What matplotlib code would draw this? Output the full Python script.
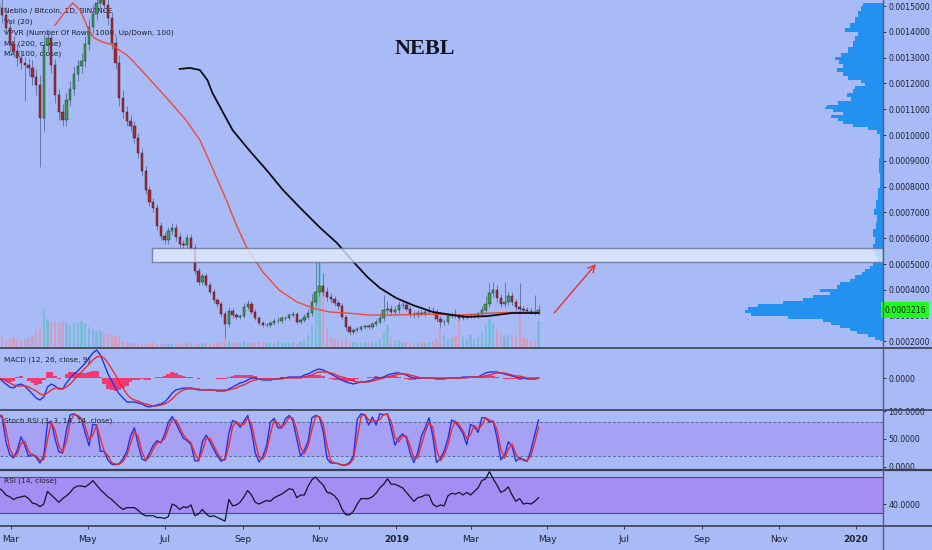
import numpy as np
import matplotlib
matplotlib.use('Agg')
import matplotlib.pyplot as plt
import matplotlib.dates as mdates
from matplotlib.lines import Line2D
from matplotlib.patches import Rectangle

# ---------------- data ----------------
dates = np.arange(np.datetime64('2018-02-19'), np.datetime64('2019-04-25'), 3)  # 3-day candles

first_open_sats = 151000
close_sats = [149200,146500,141500,135300,132600,129800,127900,127100,126000,122500,
              119400,106600,134900,137600,127100,115500,108900,105800,113600,117800,
              123600,126700,128700,135300,141900,146900,151200,152300,150400,145300,
              135700,127900,114300,108900,105400,103500,98800,93000,86000,78700,
              74000,71700,64700,60900,59300,62800,64000,60500,57800,57400,
              60100,56200,47300,43000,45300,41900,39200,36000,34500,30600,
              26700,31800,30200,29500,29800,33300,34500,31400,29100,27100,
              26400,26400,27100,27900,27900,29100,29100,30200,30600,27500,
              28300,29500,31000,35300,39200,41500,39200,37200,36400,34900,
              33700,29500,25600,23600,24400,24800,25600,26000,25600,26700,
              27500,29100,32200,32600,31400,32200,34100,34100,32600,30600,
              30200,31000,30600,31400,31800,31400,28700,27500,27500,29800,
              30200,29800,29100,29500,29800,29800,29800,30600,32200,34500,
              38800,40000,36800,34500,35300,37600,35300,33300,32600,32200,
              31800,31400,31000,32160]
wick_up_sats = [3000,3500,3000,2500,3000,2500,3000,2500,2500,3000,
                3000,4000,4000,3000,3000,2500,2500,3000,2500,3000,
                3000,2500,3000,3000,3000,3500,3000,3000,3000,3000,
                2500,2500,3000,3000,2500,2500,2000,2000,2000,1800,
                1500,1500,1500,1500,1500,1500,1800,1500,1500,1500,
                1500,1500,1500,1200,1200,1200,1200,1000,1000,1000,
                1000,1500,1200,1000,1000,1500,1500,1000,1000,800,
                800,800,800,1000,1500,800,800,1000,1000,800,
                800,1000,1500,3000,12000,10000,5000,2000,1500,1200,
                1000,1000,800,800,800,800,800,800,800,1000,
                1200,2000,5800,3000,1500,1500,1500,1500,1200,1000,
                1000,1000,1000,1000,2000,1500,1000,1000,1000,1200,
                1200,2500,1200,1000,1000,1000,1000,1000,1500,3000,
                4200,3000,2000,1500,7700,1500,1500,1200,9500,1000,
                1000,1000,6600,2000]
wick_dn_sats = [2500,3000,2500,3000,2500,3000,2500,14000,3000,3000,
                4000,19000,5000,3000,3000,3000,3000,2500,2500,2500,
                2500,2500,2500,2500,2500,2500,2500,2500,2500,2500,
                2500,2500,3000,2500,2000,2000,2000,2000,1800,1500,
                1500,1500,1500,1500,1500,1500,1500,1500,1500,1200,
                1200,1200,1200,1200,1000,1000,1000,1000,1000,1000,
                5400,1000,1000,1000,800,800,800,800,800,800,
                800,800,800,800,800,800,800,800,800,800,
                800,800,800,1000,1500,1500,1500,1500,1200,1000,
                1000,1000,1500,1200,800,800,800,800,800,800,
                800,800,1000,1000,1000,1000,1000,1000,1000,1000,
                1000,1000,800,800,800,800,1000,2000,1000,800,
                800,800,800,800,800,800,800,800,800,1000,
                1000,1500,1500,1000,1000,1000,1000,1000,800,800,
                800,800,800,800]
volume = [55,12,6,8,10,8,6,8,10,12,
          18,22,38,28,25,26,24,26,24,22,
          25,24,26,24,20,18,16,16,14,13,
          12,11,10,6,5,4,4,3,3,4,
          3,5,3,3,4,3,3,3,4,3,
          4,5,4,3,4,3,3,4,4,5,
          9,6,4,5,4,6,5,4,4,6,
          5,4,5,4,6,4,5,4,5,4,
          6,8,12,22,56,84,60,18,10,8,
          6,8,10,6,5,5,4,5,4,5,
          6,8,14,22,10,7,6,5,5,4,
          4,5,5,4,5,6,8,20,12,8,
          10,12,28,10,8,12,8,10,14,22,
          28,24,18,12,10,12,13,10,38,10,
          8,6,8,26]

ma100_dates = ['2018-04-05','2018-04-13','2018-04-19','2018-04-25','2018-05-01','2018-05-06',
               '2018-05-13','2018-05-21','2018-05-26','2018-06-01','2018-06-05','2018-06-16',
               '2018-07-02','2018-07-18','2018-07-29','2018-08-08','2018-08-19','2018-08-27',
               '2018-09-04','2018-09-17','2018-09-30','2018-10-14','2018-10-27','2018-11-09',
               '2018-11-23','2018-12-11','2018-12-29','2019-01-25','2019-02-20','2019-03-18',
               '2019-04-14','2019-04-24']
ma100_sats = [142600,147700,151200,148400,141500,137600,136000,134900,132900,131000,129100,123300,
              114700,105800,98100,87200,74800,65100,56600,46900,39900,35300,32900,31400,
              31000,30200,30200,30600,30200,31000,31400,31400]
ma200_dates = ['2018-07-13','2018-07-21','2018-07-29','2018-08-04','2018-08-08','2018-08-14',
               '2018-08-24','2018-09-06','2018-09-20','2018-10-03','2018-10-16','2018-11-01',
               '2018-11-15','2018-11-28','2018-12-09','2018-12-19','2019-01-01','2019-01-14',
               '2019-01-30','2019-02-15','2019-02-26','2019-03-14','2019-04-03','2019-04-24']
ma200_sats = [125600,126000,125200,121300,116300,110900,101900,94200,86400,78700,72100,64300,
              58100,50800,45000,40700,36800,34100,31400,30200,29500,29800,31000,31000]

vp_price_sats = [151163,149225,146900,144574,142248,140698,139535,137597,135271,132946,131008,
                 129845,128295,126744,125194,123643,122093,120930,119767,118605,117054,
                 115504,113953,112403,111240,110465,109690,108527,107364,106202,105039,
                 103876,102713,101163,99612,94186,88372,82558,76744,72868,70155,
                 67829,65116,62015,59302,56589,53876,51550,49999,48837,47674,
                 46511,44961,43798,42635,41085,39922,38759,37596,36434,35271,
                 34108,32946,31783,30620,29457,28294,27132,25969,24806,23643,
                 22480,21318,20155]
vp_volume = [20,22,25,28,33,38,25,28,30,35,42,
             48,44,40,46,40,35,22,18,28,30,
             36,32,45,56,58,50,40,52,45,40,
             30,15,6,3,3,4,3,5,7,9,
             6,7,10,8,10,8,5,10,13,18,
             21,28,33,43,46,63,53,70,80,100,
             125,135,138,132,95,60,52,43,33,26,
             15,8,3]

macd_line = [1,-3,-6,-9,-10,-7,-6,-8,-12,-16,
             -20,-22,-19,-9,-6,-8,-11,-11,-5,0,
             4,7,11,15,20,25,28,23,14,4,
             -3,-10,-16,-20,-24,-24,-24,-25,-26,-28,
             -29,-28,-27,-26,-24,-20,-15,-12,-11,-10,
             -10,-10,-11,-12,-12,-12,-12,-12,-13,-13,
             -13,-11,-9,-7,-5,-4,-2,0,0,-1,
             -2,-2,-2,-1,-1,0,0,1,1,1,
             1,3,4,6,8,9,8,6,4,2,
             0,-2,-4,-5,-6,-5,-4,-4,-3,-2,
             0,0,1,3,4,5,5,4,3,1,
             0,0,0,0,0,0,-1,-1,-1,0,
             0,0,0,1,1,1,1,1,3,5,
             6,6,6,5,4,3,2,1,0,0,
             -1,-1,-1,0]
macd_signal = [0,-1,-3,-5,-7,-8,-8,-8,-9,-11,
               -13,-16,-17,-15,-12,-10,-10,-11,-9,-6,
               -2,2,6,10,14,18,21,22,20,15,
               9,3,-4,-10,-16,-20,-22,-23,-25,-26,
               -27,-28,-28,-27,-26,-24,-21,-17,-14,-12,
               -11,-11,-11,-11,-12,-12,-12,-12,-12,-12,
               -12,-12,-11,-10,-8,-7,-5,-3,-2,-1,
               -1,-1,-1,-1,-1,-1,0,0,0,0,
               0,1,2,3,5,6,6,6,5,4,
               2,1,0,-2,-3,-4,-4,-4,-4,-3,
               -2,-1,0,1,2,3,4,4,4,3,
               2,1,0,0,0,0,0,0,0,0,
               0,0,0,0,0,1,1,1,1,2,
               3,4,5,5,5,4,3,2,2,1,
               0,0,0,0]
macd_hist = [1,-2,-3,-4,-3,1,2,0,-3,-5,
             -7,-6,-2,6,6,2,-1,0,4,6,
             6,5,5,5,6,7,7,1,-6,-11,
             -12,-13,-12,-10,-8,-4,-2,-2,-1,-2,
             -2,0,1,1,2,4,6,5,3,2,
             1,1,0,-1,0,0,0,0,-1,-1,
             -1,1,2,3,3,3,3,3,2,0,
             -1,-1,-1,0,0,1,0,1,1,1,
             1,2,2,3,3,3,2,0,-1,-2,
             -2,-3,-4,-3,-3,-1,0,0,1,1,
             2,1,1,2,2,2,1,0,-1,-2,
             -2,-1,0,0,0,0,-1,-1,-1,0,
             0,0,0,0,0,0,0,0,2,3,
             3,2,1,0,-1,-1,-1,-1,-2,-1,
             -1,-1,-1,0]

stoch_k = [95,88,45,22,16,30,54,38,19,23,
           17,7,20,78,82,50,27,25,66,93,
           95,90,85,60,38,76,75,28,28,12,
           5,4,6,15,28,56,70,40,14,11,
           25,39,47,43,58,80,90,78,64,51,
           47,40,11,11,45,57,45,32,19,10,
           15,60,83,80,71,82,92,65,25,9,
           19,38,80,87,70,70,86,92,82,50,
           19,30,46,88,92,89,63,15,7,7,
           6,3,4,8,20,85,95,93,75,89,
           75,95,93,95,68,39,52,59,52,25,
           8,25,55,70,88,55,8,15,28,50,
           84,80,71,60,40,76,72,62,88,88,
           80,82,52,13,20,45,37,10,17,12,
           10,30,58,84]
stoch_d = [93,92,66,33,19,23,42,46,28,21,
           20,12,13,49,80,66,38,26,45,80,
           94,92,87,72,49,57,75,51,28,20,
           8,5,5,10,21,42,63,55,27,12,
           18,32,43,45,50,69,85,84,71,57,
           49,43,25,11,28,51,51,38,25,14,
           12,38,72,81,75,76,87,78,45,17,
           14,28,59,84,78,70,78,89,87,66,
           35,24,38,67,90,90,76,39,11,7,
           6,4,3,6,14,52,90,94,84,82,
           82,85,94,94,81,53,45,55,55,38,
           16,16,40,62,79,71,31,11,21,39,
           67,82,75,65,50,58,74,67,75,88,
           84,81,67,32,16,32,41,23,13,14,
           11,20,44,71]
rsi = [58,55,50,48,45,47,48,49,46,41,
       40,37,40,54,50,46,42,46,49,53,
       58,60,60,59,62,66,61,56,52,48,
       45,41,37,34,36,36,36,33,29,27,
       27,27,25,25,24,26,40,38,34,37,
       36,39,27,29,34,29,26,27,25,23,
       21,45,38,39,42,48,55,50,42,40,
       42,44,43,47,49,51,54,57,56,47,
       50,50,60,67,70,65,61,53,52,49,
       44,34,28,28,32,40,46,46,46,48,
       52,58,62,68,62,62,60,58,53,48,
       43,47,48,50,50,40,37,39,38,49,
       52,51,53,50,53,50,54,58,66,68,
       76,68,61,53,55,59,50,43,46,40,
       41,40,43,47]

zone_start = '2018-06-21'
zone_low, zone_high = 0.000508, 0.000562
arrow_from = ('2019-05-05', 0.000302)
arrow_to = ('2019-06-10', 0.000508)
last_price = 0.0003216

month_ticks = ['2018-03-01','2018-05-01','2018-07-01','2018-09-01','2018-11-01','2019-01-01',
               '2019-03-01','2019-05-01','2019-07-01','2019-09-01','2019-11-01','2020-01-01']
month_labels = ['Mar','May','Jul','Sep','Nov','2019','Mar','May','Jul','Sep','Nov','2020']
price_ticks = [0.0002,0.0003,0.0004,0.0005,0.0006,0.0007,0.0008,0.0009,0.0010,
               0.0011,0.0012,0.0013,0.0014,0.0015]
legend_lines = ['Neblio / Bitcoin, 1D, BINANCE', 'Vol (20)',
                'VPVR (Number Of Rows, 1000, Up/Down, 100)', 'MA (200, close)', 'MA (100, close)']
title = 'NEBL'

# ---------------- styling ----------------
W, H = 932, 550
BG = '#a9bbf7'
TXT = '#1c2030'
LINE = '#3a3f52'
LBL = 5.6
fig = plt.figure(figsize=(W / 100, H / 100), dpi=100)
fig.patch.set_facecolor(BG)
PLOT_R = 883


def px_axes(top, bottom, z=1, face=None):
    a = fig.add_axes([0, 1 - bottom / H, PLOT_R / W, (bottom - top) / H])
    a.set_zorder(z)
    if face is None:
        a.patch.set_visible(False)
    else:
        a.set_facecolor(face)
    for s in a.spines.values():
        s.set_visible(False)
    return a


def right_ticks(a):
    a.yaxis.tick_right()
    a.tick_params(axis='y', direction='out', length=2.5, width=0.6, colors=TXT,
                  labelsize=LBL, pad=1.5)


d0 = mdates.date2num(np.datetime64('2018-03-01'))
XLIM = (d0 - 8.74, d0 + 692.6)
PRICE_LIM = (0.0001783, 0.0015233)

xd = mdates.date2num(dates)
close = np.array(close_sats) / 1e8
open_ = np.concatenate([[first_open_sats], close_sats[:-1]]) / 1e8
high = np.maximum(open_, close) + np.array(wick_up_sats) / 1e8
low = np.minimum(open_, close) - np.array(wick_dn_sats) / 1e8
up = close >= open_

# --- VPVR layer (bottom) ---
ax_vp = px_axes(0, 347, z=0, face=BG)
ax_vp.set_xlim(PLOT_R, 0)
ax_vp.set_ylim(*PRICE_LIM)
vp_p = np.array(vp_price_sats) / 1e8
ax_vp.fill_betweenx(vp_p, 0, np.array(vp_volume), step='mid', color='#2391ef', lw=0)
ax_vp.set_xticks([]); ax_vp.set_yticks([])

# --- volume layer ---
ax_vol = px_axes(0, 347, z=0.5)
ax_vol.set_xlim(*XLIM)
ax_vol.set_ylim(0, 347)
vcol = np.where(up, '#5cbccb', '#ec8c9c')
ax_vol.bar(xd, volume, width=1.8, color=vcol, alpha=0.6, lw=0)
ax_vol.set_xticks([]); ax_vol.set_yticks([])

# --- price layer ---
ax = px_axes(0, 347, z=1)
ax.set_xlim(*XLIM)
ax.set_ylim(*PRICE_LIM)
for i, line in enumerate(legend_lines):
    ax.text(4 / PLOT_R, 1 - (11 + 10.8 * i) / 347, line, transform=ax.transAxes,
            fontsize=5.3, color=TXT, va='center', ha='left', zorder=1)
ax.vlines(xd, low, high, color='#6576aa', lw=0.7, zorder=2)
body_h = np.maximum(np.abs(close - open_), 0.0000012)
ax.bar(xd, body_h, bottom=np.minimum(open_, close), width=1.9,
       color=np.where(up, '#36a346', '#b2262b'), edgecolor='#1d1d24', lw=0.3, zorder=3)
ax.plot(mdates.date2num(np.array(ma100_dates, dtype='datetime64[D]')), np.array(ma100_sats) / 1e8,
        color='#ee4a3a', lw=1.0, zorder=4)
ax.plot(mdates.date2num(np.array(ma200_dates, dtype='datetime64[D]')), np.array(ma200_sats) / 1e8,
        color='#0d0d14', lw=1.3, zorder=4)
zs = mdates.date2num(np.datetime64(zone_start))
ax.add_patch(Rectangle((zs, zone_low), XLIM[1] - zs, zone_high - zone_low,
                       facecolor='#e4ecfd', alpha=0.78, edgecolor='#667090', lw=1.0, zorder=5))
ax.annotate('', xy=(mdates.date2num(np.datetime64(arrow_to[0])), arrow_to[1]),
            xytext=(mdates.date2num(np.datetime64(arrow_from[0])), arrow_from[1]),
            arrowprops=dict(arrowstyle='->,head_length=0.5,head_width=0.25', color='#e8302a', lw=1.0),
            zorder=6)
ax.text(425 / PLOT_R, 1 - 49 / 347, title, transform=ax.transAxes, ha='center', va='center',
        fontsize=16, fontweight='bold', family='Liberation Serif', color='#10121c', zorder=7)
right_ticks(ax)
ax.set_yticks(price_ticks)
ax.set_yticklabels(['%.7f' % v for v in price_ticks])
ax.set_xticks([])
ax.text(1.0015, last_price, '%.7f' % last_price,
        transform=ax.get_yaxis_transform(), ha='left', va='center', fontsize=LBL, color='#101010',
        bbox=dict(boxstyle='square,pad=0.45', fc='#1cff1c', ec='none'), zorder=8, clip_on=False)

# --- MACD ---
ax_m = px_axes(348, 410, z=1, face=BG)
ax_m.set_xlim(*XLIM)
ax_m.set_ylim(-32, 30)
ax_m.bar(xd, macd_hist, width=3.0, color='#fb2b62', lw=0, alpha=0.9)
ax_m.plot(xd, macd_line, color='#2233e6', lw=1.0)
ax_m.plot(xd, macd_signal, color='#ef2a2a', lw=1.0)
right_ticks(ax_m)
ax_m.set_yticks([0]); ax_m.set_yticklabels(['0.0000'])
ax_m.set_xticks([])
fig.text(4 / W, 1 - 360 / H, 'MACD (12, 26, close, 9)', fontsize=5.3, color=TXT, va='center')

# --- Stoch RSI ---
ax_s = px_axes(410, 469, z=1, face=BG)
ax_s.set_xlim(*XLIM)
ax_s.set_ylim(-3.6, 101.8)
ax_s.axhspan(20, 80, color='#a6a1f4', lw=0)
ax_s.axhline(80, color='#5d6896', lw=0.7, ls=(0, (3, 2)))
ax_s.axhline(20, color='#5d6896', lw=0.7, ls=(0, (3, 2)))
ax_s.plot(xd, stoch_k, color='#2233e6', lw=1.0)
ax_s.plot(xd, stoch_d, color='#ef2a2a', lw=1.0)
right_ticks(ax_s)
ax_s.set_yticks([0, 50, 100]); ax_s.set_yticklabels(['0.0000', '50.0000', '100.0000'])
ax_s.set_xticks([])
fig.text(4 / W, 1 - 421 / H, 'Stoch RSI (3, 3, 14, 14, close)', fontsize=5.3, color=TXT, va='center')

# --- RSI ---
ax_r = px_axes(470, 525, z=1, face=BG)
ax_r.set_xlim(*XLIM)
ax_r.set_ylim(16.7, 77.8)
ax_r.axhspan(30, 70, color='#a48ef3', lw=0)
ax_r.axhline(70, color='#4a4f6a', lw=0.8)
ax_r.axhline(30, color='#4a4f6a', lw=0.8)
ax_r.plot(xd, rsi, color='#14142a', lw=0.9)
right_ticks(ax_r)
ax_r.set_yticks([40]); ax_r.set_yticklabels(['40.0000'])
mt = mdates.date2num(np.array(month_ticks, dtype='datetime64[D]'))
ax_r.set_xticks(mt)
ax_r.set_xticklabels(month_labels)
ax_r.tick_params(axis='x', direction='out', length=3, width=0.6, colors=TXT, labelsize=6.5, pad=4)
for lab in ax_r.get_xticklabels():
    if lab.get_text() in ('2019', '2020'):
        lab.set_fontweight('bold')
fig.text(4 / W, 1 - 481 / H, 'RSI (14, close)', fontsize=5.3, color=TXT, va='center')

# --- separators and right axis line ---
for yy, lw in [(347.5, 1.2), (410, 1.2), (469.5, 1.6), (525.5, 1.2)]:
    fig.add_artist(Line2D([0, 1], [1 - yy / H, 1 - yy / H], transform=fig.transFigure,
                          color=LINE, lw=lw, zorder=10))
fig.add_artist(Line2D([PLOT_R / W, PLOT_R / W], [0, 1], transform=fig.transFigure,
                      color='#555b70', lw=1.0, zorder=10))

fig.savefig('out.png', dpi=100, facecolor=BG)
